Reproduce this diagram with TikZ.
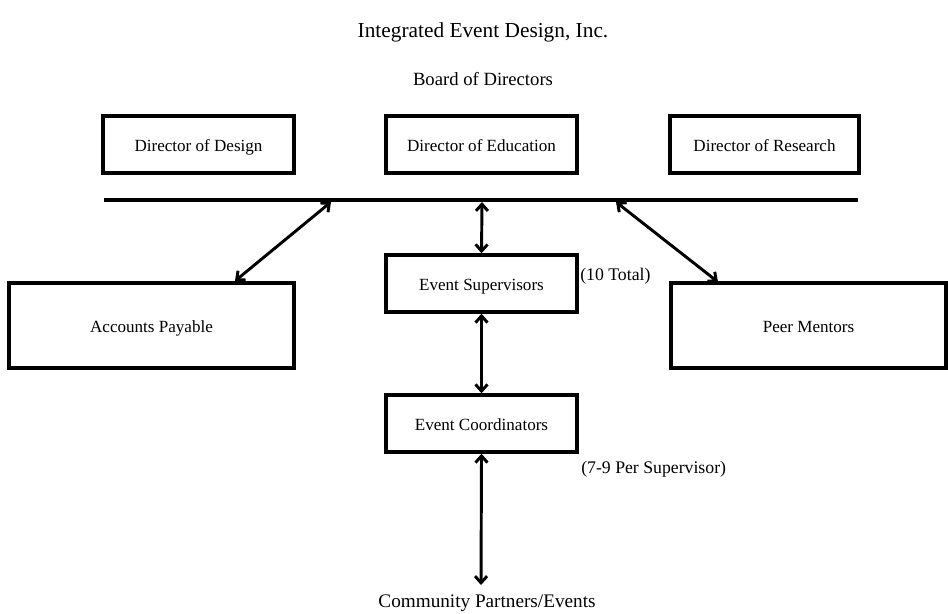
\documentclass[tikz,border=0pt]{standalone}
\usepackage{fontspec}
\setmainfont{Liberation Serif}
\usetikzlibrary{arrows.meta}
\begin{document}
\begin{tikzpicture}[x=0.75pt,y=-0.75pt,
  box/.style={draw,line width=2.6pt,inner sep=0pt,text height=1em,text depth=0em,font=\fontsize{12.8}{15}\selectfont},
  lbl/.style={inner sep=0pt,text height=1em,text depth=0em},
  link/.style={line width=2.2pt,{Straight Barb[length=5pt,width=9pt,line width=2.2pt]}-{Straight Barb[length=5pt,width=9pt,line width=2.2pt]}}]
\useasboundingbox (0,0) rectangle (948,613);
\node[lbl,font=\fontsize{16}{19}\selectfont] (title) at (483,31) {Integrated Event Design, Inc.};
\node[lbl,font=\fontsize{14}{17}\selectfont] (board) at (483,79) {Board of Directors};
\node[box,minimum width=191*0.75pt,minimum height=57*0.75pt] (dd) at (198.5,144.5) {Director of Design};
\node[box,minimum width=191*0.75pt,minimum height=57*0.75pt] (de) at (481.5,144.5) {Director of Education};
\node[box,minimum width=189*0.75pt,minimum height=57*0.75pt] (dr) at (764.5,144.5) {Director of Research};
\draw[line width=2.6pt] (104,200) coordinate (bl) -- (858,200) coordinate (br);
\coordinate (b1) at (331,202);
\coordinate (b2) at (482,202);
\coordinate (b3) at (616,202);
\node[box,minimum width=285*0.75pt,minimum height=85*0.75pt] (ap) at (151.5,325.5) {Accounts Payable};
\node[box,minimum width=275*0.75pt,minimum height=85*0.75pt] (pm) at (808.5,325.5) {Peer Mentors};
\node[box,minimum width=191*0.75pt,minimum height=57*0.75pt] (es) at (481.5,283.5) {Event Supervisors};
\node[box,minimum width=191*0.75pt,minimum height=57*0.75pt] (ec) at (481.5,423.5) {Event Coordinators};
\node[lbl,anchor=west,font=\fontsize{13.3}{16}\selectfont] (tot) at (580,274) {(10 Total)};
\node[lbl,anchor=west,font=\fontsize{13.3}{16}\selectfont] (per) at (581,467) {(7-9 Per Supervisor)};
\node[lbl,font=\fontsize{14.4}{17}\selectfont] (cp) at (487,601) {Community Partners/Events};
\coordinate (cpt) at (481,585);
\draw[link] (b1) -- (235,281);
\draw[link] (b3) -- (718,282);
\draw[link] (b2) -- (es.north);
\draw[link] (es.south) -- (ec.north);
\draw[link] (ec.south) -- (cpt);
\end{tikzpicture}
\end{document}
